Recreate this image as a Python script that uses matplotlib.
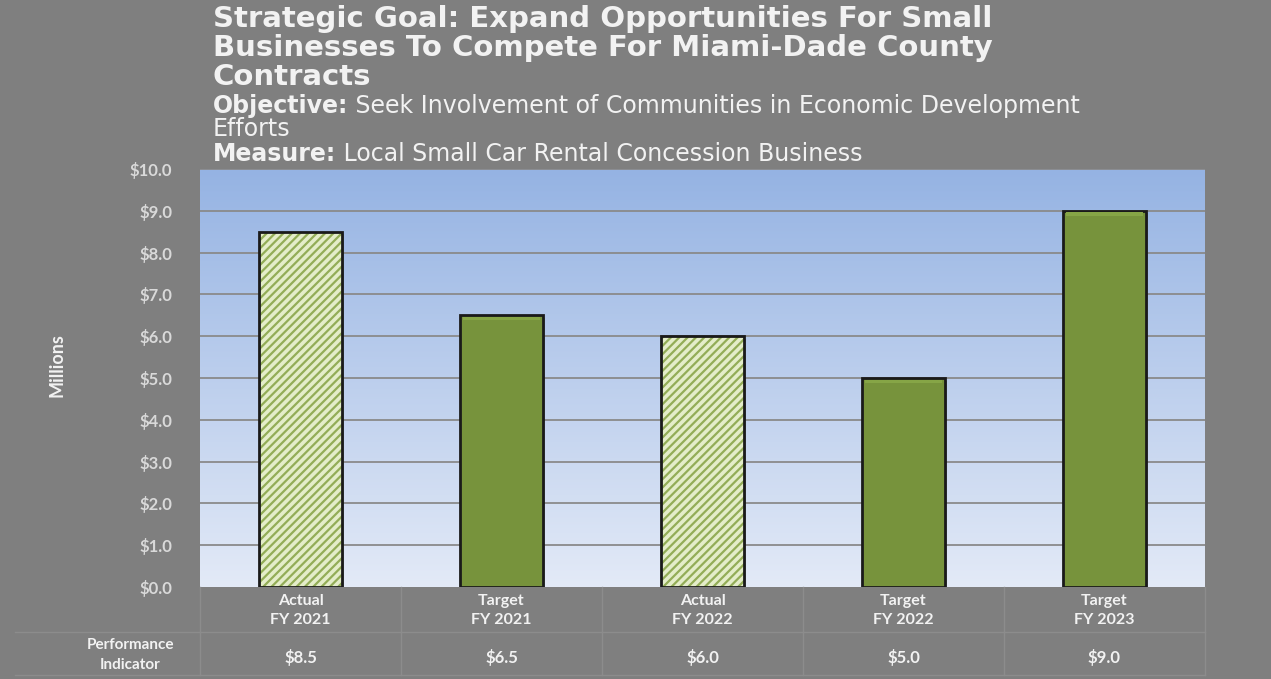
import numpy as np
import matplotlib
matplotlib.use('Agg')
import matplotlib.pyplot as plt
import matplotlib.transforms as mtransforms

# chart data
categories = ['Actual\nFY 2021', 'Target\nFY 2021', 'Actual\nFY 2022', 'Target\nFY 2022', 'Target\nFY 2023']
values = [8.5, 6.5, 6.0, 5.0, 9.0]
is_actual = [c.startswith('Actual') for c in categories]
y_ticks = [0, 1, 2, 3, 4, 5, 6, 7, 8, 9, 10]

title_lines = ['Strategic Goal: Expand Opportunities For Small',
               'Businesses To Compete For Miami-Dade County',
               'Contracts']
sub_lines = [('Objective:', ' Seek Involvement of Communities in Economic Development'),
             ('', 'Efforts'),
             ('Measure:', ' Local Small Car Rental Concession Business')]

bg = '#7f7f7f'
txt = '#f2f2f2'
tick_col = '#d9d9d9'
plt.rcParams['hatch.linewidth'] = 1.6

W, H = 1271, 679
fig = plt.figure(figsize=(W / 100, H / 100), dpi=100, facecolor=bg)
ax = fig.add_axes([200 / W, (H - 587) / H, 1005 / W, 418 / H])
ax.set_facecolor('none')

x = np.arange(len(values))
ax.set_xlim(-0.5, len(values) - 0.5)
ax.set_ylim(0, 10)

# blue gradient behind the plot area
grad = np.linspace(0, 1, 256).reshape(-1, 1)
top = np.array([0x95, 0xb3, 0xe3]) / 255
bot = np.array([0xe3, 0xea, 0xf7]) / 255
img = bot + (top - bot) * grad
ax.imshow(img[:, None, :].repeat(2, axis=1), extent=[0, 1, 0, 1], origin='lower',
          transform=ax.transAxes, aspect='auto', zorder=0)

for t in y_ticks[1:]:
    ax.axhline(t, color='#8a8a8a', lw=1.3, zorder=1)

# bars
bw = 0.41
for xi, v, act in zip(x, values, is_actual):
    # soft shadow
    ax.bar(xi + 0.012, v, bw, bottom=-0.06, color='#000000', alpha=0.25, zorder=2, lw=0)
    if act:
        ax.bar(xi, v, bw, color='#e4edc9', edgecolor='#93ad57', hatch='////', lw=0, zorder=3)
        ax.bar(xi, v, bw, color='none', edgecolor='#1a1a1a', lw=2, zorder=4)
    else:
        ax.bar(xi, v, bw, color='#77933c', edgecolor='#1a1a1a', lw=2, zorder=3)
        # soft bevel along the top edge
        ax.bar(xi, 0.08, bw * 0.94, bottom=v - 0.12, color='#86a546', lw=0, zorder=4)

for s in ax.spines.values():
    s.set_visible(False)

ax.set_yticks(y_ticks)
ax.set_yticklabels([f'${t:.1f}' for t in y_ticks], fontsize=12, color=tick_col,
                   fontfamily='Lato', fontweight='bold')
ax.tick_params(axis='y', length=0, pad=20)
ax.set_ylabel('Millions', fontsize=13, color=txt, fontweight='bold', fontfamily='Lato')
ax.yaxis.set_label_coords(-(200 - 65) / 1005, 0.53)

ax.set_xticks(x)
ax.set_xticklabels(categories, fontsize=11.5, color=txt, fontweight='bold', fontfamily='Lato',
                   linespacing=1.45)
ax.tick_params(axis='x', length=0, pad=5)

# table below the axis
trans = mtransforms.blended_transform_factory(ax.transData, ax.transAxes)
row_y = -(632 - 587) / 418
bot_y = -(675 - 587) / 418
line_kw = dict(color='#8c8c8c', lw=1, clip_on=False, transform=ax.transAxes)
ax.plot([0, 1], [row_y, row_y], **line_kw)
ax.plot([-(200 - 15) / 1005, 0], [row_y, row_y], **line_kw)
ax.plot([-(200 - 15) / 1005, 1], [bot_y, bot_y], **line_kw)
for b in np.arange(len(values) + 1) - 0.5:
    ax.plot([b, b], [0, bot_y], color='#8c8c8c', lw=1, clip_on=False, transform=trans)

val_y = -(657 - 587) / 418
for xi, v in zip(x, values):
    ax.text(xi, val_y, f'${v:.1f}', transform=trans, ha='center', va='center',
            fontsize=12, color=txt, fontweight='bold', fontfamily='Lato')
ax.text(-(200 - 130) / 1005, -(655 - 587) / 418, 'Performance\nIndicator', transform=ax.transAxes,
        ha='center', va='center', fontsize=11, color=txt, fontweight='bold',
        fontfamily='Lato', linespacing=1.5)

# heading block
for line, yb in zip(title_lines, [27, 56, 85]):
    fig.text(213 / W, 1 - yb / H, line, ha='left', va='baseline',
             fontsize=21, fontweight='bold', color=txt)

renderer = fig.canvas.get_renderer()
for (label, rest), yb in zip(sub_lines, [113, 136, 161]):
    xs = 213 / W
    if label:
        t = fig.text(xs, 1 - yb / H, label, ha='left', va='baseline', fontsize=17,
                     fontweight='bold', color=txt)
        bb = t.get_window_extent(renderer)
        xs = bb.x1 / W
    fig.text(xs, 1 - yb / H, rest, ha='left', va='baseline', fontsize=17, color=txt)

fig.savefig('out.png', dpi=100, facecolor=bg)
